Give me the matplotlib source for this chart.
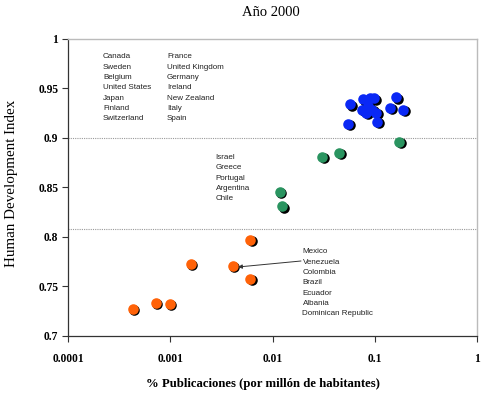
import matplotlib
matplotlib.use("Agg")
import matplotlib.pyplot as plt
import matplotlib.transforms as mtransforms
from matplotlib.ticker import FixedLocator, FixedFormatter, NullLocator

# ---- data ----
high_x = [0.0578, 0.0774, 0.0907, 0.0993, 0.163, 0.0757, 0.0828, 0.0948,
          0.1037, 0.142, 0.1905, 0.106, 0.0552, 0.0867]
high_y = [0.934, 0.939, 0.940, 0.940, 0.941, 0.928, 0.925, 0.928,
          0.925, 0.930, 0.928, 0.916, 0.914, 0.932]
mid_x = [0.1746, 0.0308, 0.0451, 0.01191, 0.01248]
mid_y = [0.896, 0.881, 0.885, 0.8455, 0.831]
low_x = [0.00607, 0.0016, 0.00413, 0.00607, 0.000433, 0.000728, 0.000998]
low_y = [0.797, 0.7727, 0.7707, 0.7576, 0.7273, 0.7333, 0.7323]

high_col1 = ["Canada", "Sweden", "Belgium", "United States", "Japan", "Finland", "Switzerland"]
high_col2 = ["France", "United Kingdom", "Germany", "Ireland", "New Zealand", "Italy", "Spain"]
mid_names = ["Israel", "Greece", "Portugal", "Argentina", "Chile"]
low_names = ["Mexico", "Venezuela", "Colombia", "Brazil", "Ecuador", "Albania", "Dominican Republic"]

thresholds = [0.9, 0.808]
xticks = [0.0001, 0.001, 0.01, 0.1, 1]
xticklabels = ["0.0001", "0.001", "0.01", "0.1", "1"]
yticks = [0.7, 0.75, 0.8, 0.85, 0.9, 0.95, 1.0]
yticklabels = ["0.7", "0.75", "0.8", "0.85", "0.9", "0.95", "1"]

# ---- figure ----
fig = plt.figure(figsize=(5, 4), dpi=100)
W, H = 500, 400
L, R, T, B = 68, 477, 39, 336
ax = fig.add_axes([L / W, 1 - B / H, (R - L) / W, (B - T) / H])
ax.set_xscale("log")
ax.set_xlim(0.0001, 1)
ax.set_ylim(0.7, 1.0)

serif = "Liberation Serif"
sans = "Liberation Sans"

for yv in thresholds:
    ax.axhline(yv, color="#9a9a9a", lw=0.8, ls=(0, (1, 1)), zorder=1)

shadow = ax.transData + mtransforms.ScaledTranslation(1.2 / 100, -1.2 / 100, fig.dpi_scale_trans)
for xs, ys, col in [(high_x, high_y, "#0a28f5"), (mid_x, mid_y, "#2a9460"), (low_x, low_y, "#ff6208")]:
    ax.plot(xs, ys, "o", color="black", ms=7.6, mec="none", transform=shadow, zorder=2)
    ax.plot(xs, ys, "o", color=col, ms=7.6, mec="none", zorder=3)

def px2ax(px, py):
    return ((px - L) / (R - L), (B - py) / (B - T))

def text_block(names, px, py0, step=10.3):
    for i, n in enumerate(names):
        x, y = px2ax(px, py0 + i * step)
        ax.text(x, y, n, transform=ax.transAxes, fontsize=5.8, family=sans,
                color="#222222", va="center", ha="left")

text_block(high_col1, 103, 57)
text_block(high_col2, 167, 57)
text_block(mid_names, 215.5, 157.5)
text_block(low_names, 302.5, 252)

# arrow to Venezuela
ax.annotate("", xy=px2ax(238, 267), xytext=px2ax(301, 261),
            xycoords="axes fraction", textcoords="axes fraction",
            arrowprops=dict(arrowstyle="-|>", color="#333333", lw=0.7,
                            mutation_scale=6, shrinkA=0, shrinkB=0))

# axes styling
ax.xaxis.set_major_locator(FixedLocator(xticks))
ax.xaxis.set_major_formatter(FixedFormatter(xticklabels))
ax.xaxis.set_minor_locator(NullLocator())
ax.set_yticks(yticks)
ax.set_yticklabels(yticklabels)
for lab in ax.get_xticklabels() + ax.get_yticklabels():
    lab.set_family(serif)
    lab.set_fontweight("bold")
    lab.set_fontsize(8.3)
ax.tick_params(axis="both", direction="out", length=4, width=0.8, color="#333333")
ax.tick_params(axis="x", pad=8)
ax.tick_params(axis="y", pad=3)
for s in ["left", "bottom"]:
    ax.spines[s].set_color("#333333")
    ax.spines[s].set_linewidth(0.9)
for s in ["top", "right"]:
    ax.spines[s].set_color("#bbbbbb")
    ax.spines[s].set_linewidth(1.0)

fig.text(271 / W, 1 - 13 / H, "Año 2000", family=serif, fontsize=10.5,
         ha="center", va="center")
fig.text(263 / W, 1 - 384 / H, "% Publicaciones (por millón de habitantes)",
         family=serif, fontsize=9.2, fontweight="bold", ha="center", va="center")
fig.text(12 / W, 1 - 183 / H, "Human Development Index", family=serif,
         fontsize=10.8, rotation=90, ha="center", va="center")

fig.savefig("out.png", dpi=100)
